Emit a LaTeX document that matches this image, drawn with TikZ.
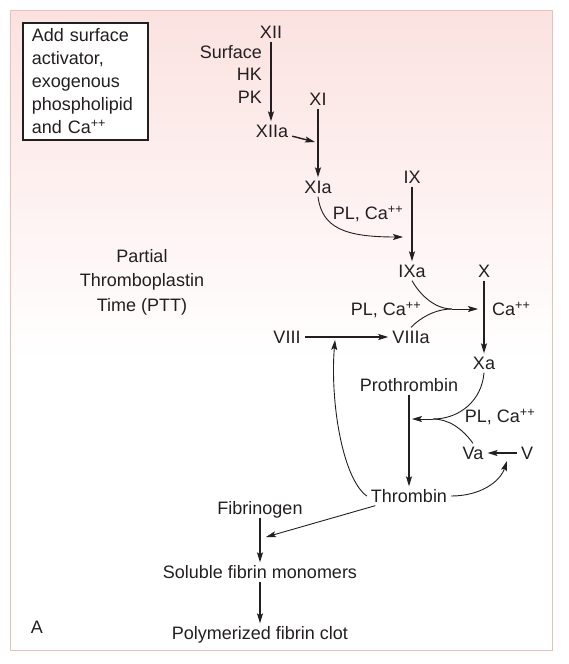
\documentclass[tikz,border=0pt]{standalone}
\usepackage{fontspec}
\setmainfont{Liberation Sans}
\usetikzlibrary{arrows.meta}
\definecolor{ink}{HTML}{231F20}
\definecolor{panelpink}{HTML}{FBE2E0}
\definecolor{panelrim}{HTML}{E6C2B8}

\begin{document}
\begin{tikzpicture}[x=1pt, y=-1pt,
  font=\fontsize{18}{23}\selectfont, color=ink,
  lbl/.style={inner xsep=4pt, inner ysep=3pt, text height=12.9pt, text depth=0pt},
  infobox/.style={draw, line width=1.6pt, fill=white, align=left, text width=107pt, inner xsep=9pt, inner ysep=6pt},
  main/.style={line width=1.4pt, -{Stealth[length=10pt, width=6pt, inset=2pt]}},
  curve/.style={line width=0.9pt},
  curvearr/.style={curve, -{Stealth[length=10pt, width=6pt, inset=2pt]}}
]
\useasboundingbox (0,0) rectangle (568,664);
\shade[top color=panelpink, bottom color=white] (10,10) rectangle (552,360);
\draw[panelrim, line width=1pt] (10,10) rectangle (552,650);

\node[infobox, anchor=north west] (addbox) at (22,22) {Add surface\\activator,\\exogenous\\phospholipid\\and Ca\textsuperscript{++}};
\node[align=center, font=\fontsize{18}{24.5}\selectfont] (ptt) at (142,282) {Partial\\Thromboplastin\\Time (PTT)};
\node[lbl] (panel) at (37,627) {A};

\node[lbl] (xii) at (271,32) {XII};
\node[lbl, anchor=east] (surf) at (266,52) {Surface};
\node[lbl, anchor=east] (hk) at (266,74) {HK};
\node[lbl, anchor=east] (pk) at (266,97) {PK};
\node[lbl] (xiia) at (272,131) {XIIa};
\node[lbl] (xi) at (318,99) {XI};
\node[lbl] (xia) at (318,187) {XIa};
\node[lbl] (plca1) at (368,213) {PL, Ca\textsuperscript{++}};
\node[lbl] (ix) at (412,177) {IX};
\node[lbl] (ixa) at (412,271) {IXa};
\node[lbl] (x) at (484,271) {X};
\node[lbl, anchor=west] (ca) at (488,309) {Ca\textsuperscript{++}};
\node[lbl] (plca2) at (386,309) {PL, Ca\textsuperscript{++}};
\node[lbl] (viii) at (287,337) {VIII};
\node[lbl] (viiia) at (411,337) {VIIIa};
\node[lbl] (xa) at (484,363) {Xa};
\node[lbl] (prothr) at (409,385) {Prothrombin};
\node[lbl] (plca3) at (500,416) {PL, Ca\textsuperscript{++}};
\node[lbl] (va) at (473,453) {Va};
\node[lbl] (v) at (527,453) {V};
\node[lbl] (thromb) at (409,496) {Thrombin};
\node[lbl] (fibgen) at (260,508) {Fibrinogen};
\node[lbl] (monomers) at (260,572) {Soluble fibrin monomers};
\node[lbl] (clot) at (260,633) {Polymerized fibrin clot};

\coordinate (xihit) at (315,142);
\coordinate (ixhit) at (403,237);
\coordinate (xjoin) at (452,309);
\coordinate (xhit) at (478,309);
\coordinate (projoin) at (433,419);
\coordinate (prohit) at (412,419);
\coordinate (vhit) at (507,461);
\coordinate (viiihit) at (335,340);
\coordinate (fibhit) at (266,537);

\draw[main] (xii) -- (xii |- xiia.north);
\draw[main] (xiia) -- (xihit);
\draw[main] (xi) -- (xia);
\draw[curvearr] (xia.south) .. controls (322,228) and (345,237) .. (ixhit);
\draw[main] (ix) -- (ixa);
\draw[curve] (ixa.south) .. controls (420,295) and (435,309) .. (xjoin);
\draw[curve] (viiia.north) .. controls (420,318) and (435,309) .. (xjoin);
\draw[curvearr] (xjoin) -- (xhit);
\draw[main] (x) -- (xa);
\draw[main] (viii) -- (viiia);
\draw[curvearr] (thromb.west) .. controls (342,478) and (330,400) .. (viiihit);
\draw[main] (prothr) -- (prothr |- thromb.north);
\draw[curve] (xa.south) .. controls (482,400) and (460,419) .. (projoin);
\draw[curve] (va.north) .. controls (462,428) and (448,419) .. (projoin);
\draw[curvearr] (projoin) -- (prohit);
\draw[main] (v) -- (va);
\draw[curvearr] (thromb.east) .. controls (480,496) and (500,482) .. (vhit);
\draw[curvearr] (thromb) -- (fibhit);
\draw[main] (fibgen) -- (monomers);
\draw[main] (monomers) -- (clot);
\end{tikzpicture}
\end{document}
